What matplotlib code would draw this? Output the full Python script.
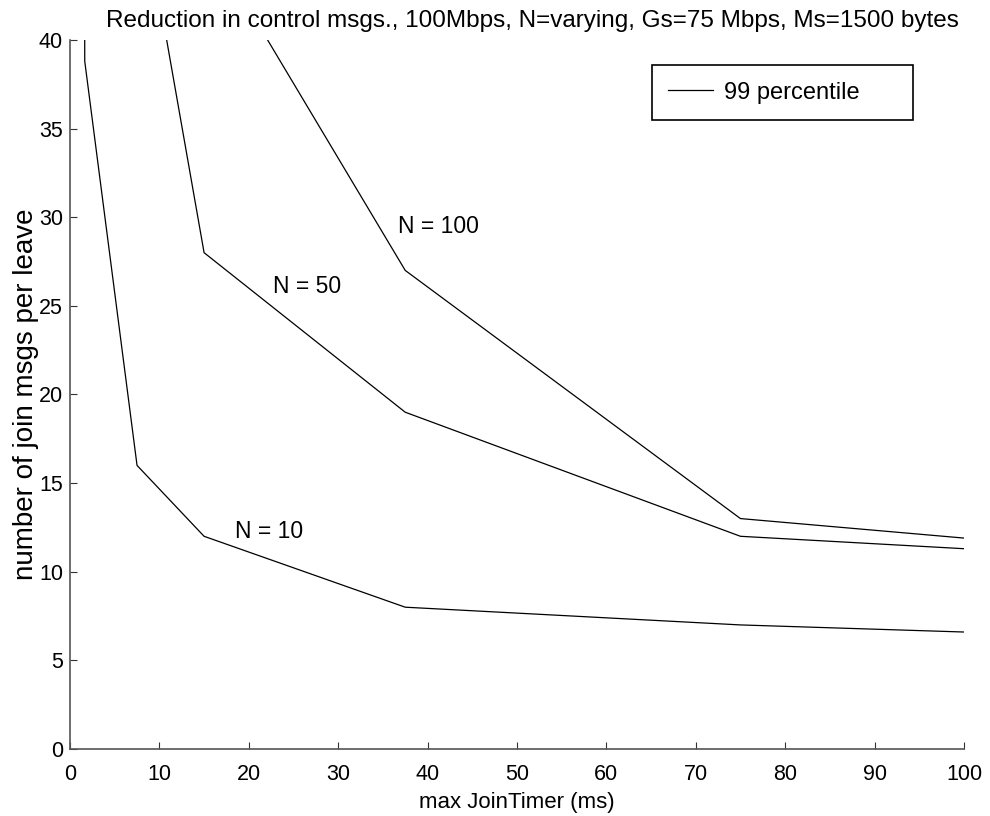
import matplotlib.pyplot as plt

plt.rcParams['font.family'] = ['Liberation Sans', 'DejaVu Sans']

# max JoinTimer values (ms)
x_n10 = [1.6, 1.65, 7.5, 15, 37.5, 75, 100]
y_n10 = [60, 38.8, 16, 12, 8, 7, 6.6]

x_n50 = [7.5, 15, 37.5, 75, 100]
y_n50 = [49.5, 28, 19, 12, 11.3]

x_n100 = [15, 37.5, 75, 100]
y_n100 = [46, 27, 13, 11.9]

labels = ['N = 10', 'N = 50', 'N = 100']
label_pos = [(18.5, 11.9), (22.7, 25.7), (36.7, 29.1)]

fig = plt.figure(figsize=(9.9, 8.16), dpi=100)
ax = fig.add_axes([0.0707, 0.0821, 0.903, 0.8689])

ax.plot(x_n10, y_n10, color='black', lw=0.9, label='99 percentile')
ax.plot(x_n50, y_n50, color='black', lw=0.9)
ax.plot(x_n100, y_n100, color='black', lw=0.9)

for txt, (tx, ty) in zip(labels, label_pos):
    ax.text(tx, ty, txt, fontsize=16.5, va='baseline', ha='left')

ax.set_xlim(0, 100)
ax.set_ylim(0, 40)
ax.set_xticks(range(0, 101, 10))
ax.set_yticks(range(0, 41, 5))
ax.tick_params(direction='in', length=5, labelsize=15.5, color='#333333')
ax.tick_params(axis='x', pad=11)
ax.tick_params(axis='y', pad=5)
ax.spines['top'].set_visible(False)
ax.spines['right'].set_visible(False)
for s in ['left', 'bottom']:
    ax.spines[s].set_color('#555555')
    ax.spines[s].set_linewidth(1.2)

ax.set_title('Reduction in control msgs., 100Mbps, N=varying, Gs=75 Mbps, Ms=1500 bytes',
             fontsize=17.5, x=0.517, pad=9)
ax.set_xlabel('max JoinTimer (ms)', fontsize=16, labelpad=5)
ax.set_ylabel('number of join msgs per leave', fontsize=20, labelpad=0)

leg = ax.legend(loc='upper left', bbox_to_anchor=(0.651, 0.8, 0.292, 0.1647),
                mode='expand', borderaxespad=0, fontsize=17,
                fancybox=False, edgecolor='black', handlelength=1.9,
                handletextpad=0.45, borderpad=0.7, framealpha=1)
leg.get_frame().set_linewidth(1.2)

fig.savefig('out.png', dpi=100)
